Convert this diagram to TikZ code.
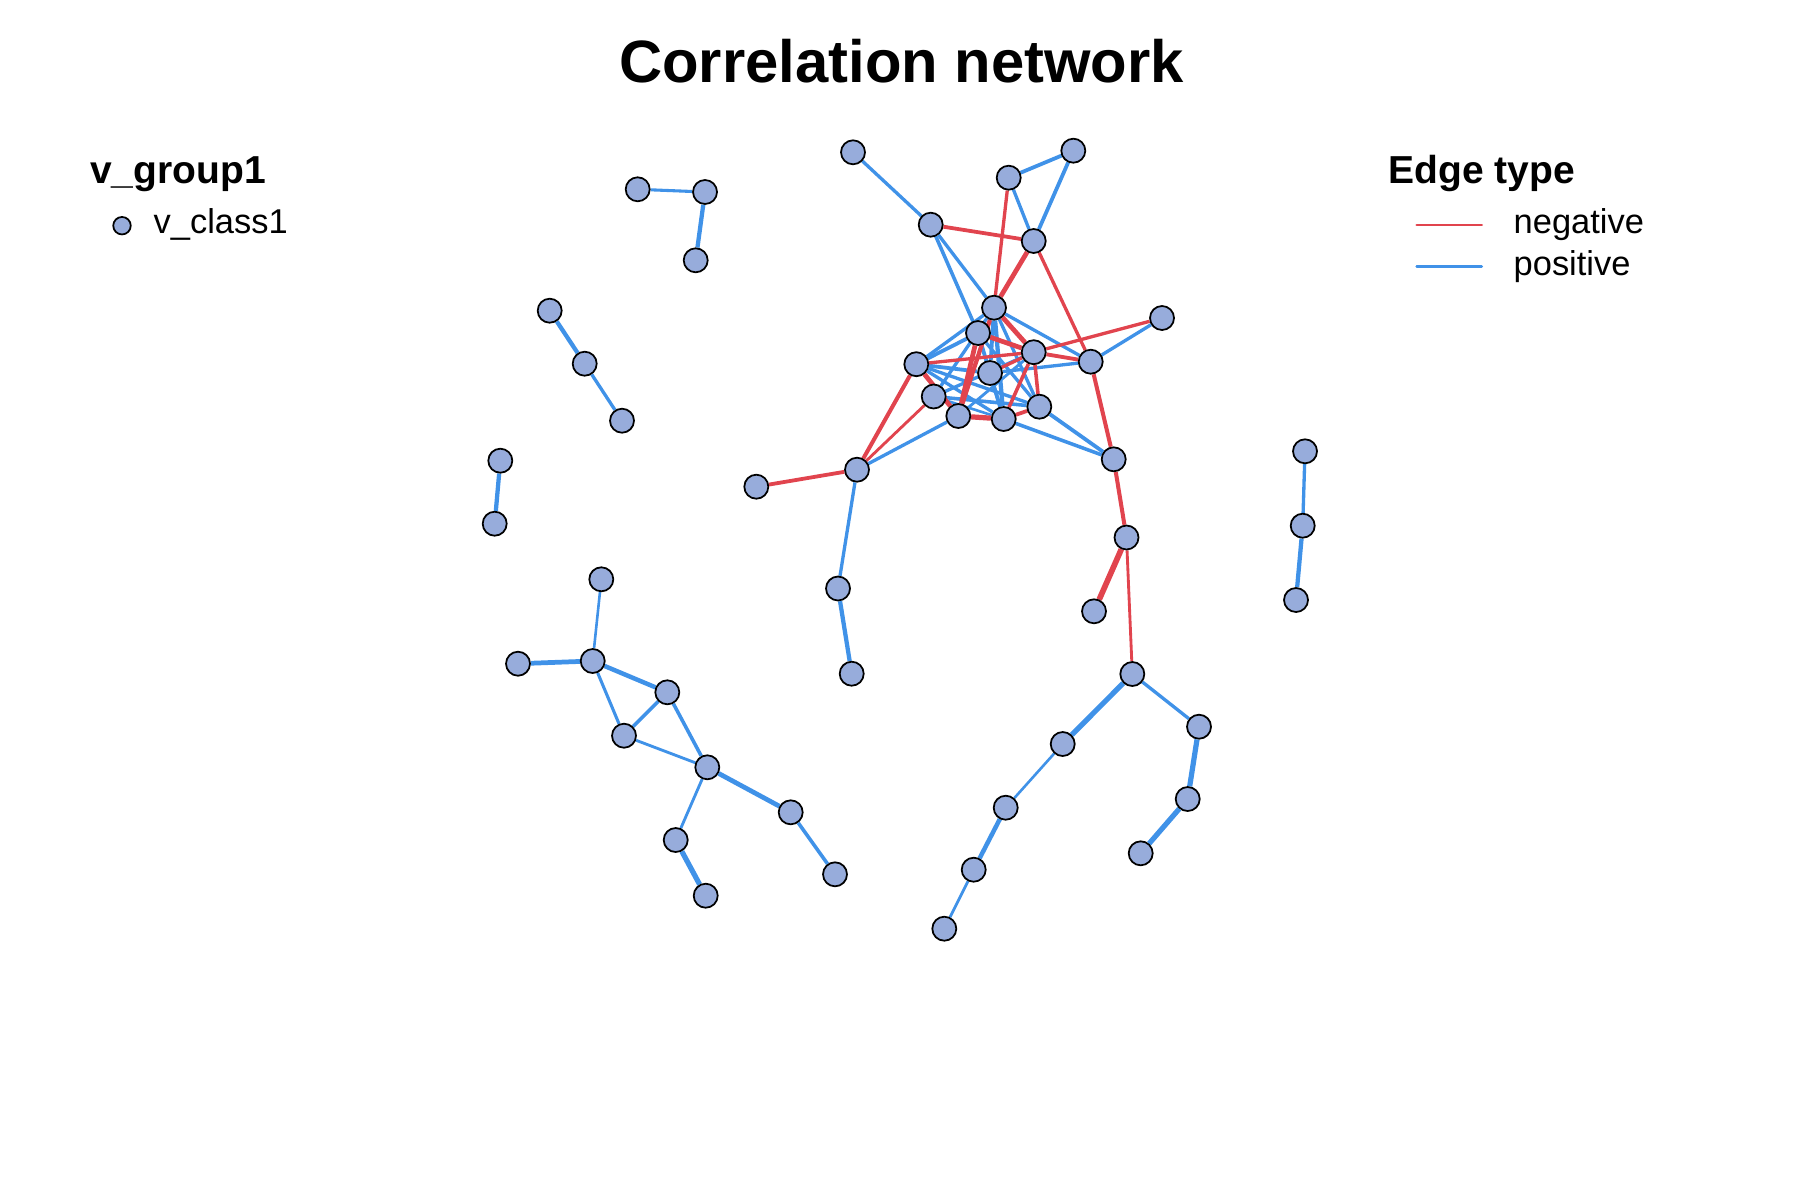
\documentclass[tikz,border=0pt]{standalone}
\usepackage{fontspec}
\setmainfont{Liberation Sans}
\usetikzlibrary{backgrounds}
\definecolor{vfill}{RGB}{151,172,219}
\definecolor{negred}{RGB}{225,68,78}
\definecolor{posblue}{RGB}{64,146,232}
\begin{document}
\begin{tikzpicture}[x=0.1mm,y=-0.1mm,
    vx/.style={circle,draw=black,line width=0.5pt,fill=vfill,minimum size=2.4mm,inner sep=0pt},
    ng/.style={draw=negred,line width=1.35*#1pt},
    ps/.style={draw=posblue,line width=1.35*#1pt},
    lb/.style={anchor=base west,inner sep=0pt,font=\fontsize{9.8}{12}\selectfont},
    hd/.style={anchor=base west,inner sep=0pt,font=\fontsize{11.1}{13}\selectfont\bfseries}]
    \useasboundingbox (0,0) rectangle (1800,1200);
    \node[anchor=base,inner sep=0pt,font=\fontsize{17}{20}\selectfont\bfseries] (title) at (901.5,82.5) {Correlation network};
    % vertices
    \foreach \n/\x/\y in {p1/637.7/189.3,p2/705/192,p3/695.7/260.3,
        q1/549.7/310.7,q2/584.7/363.7,q3/622/420.7,r1/500.3/460.7,r2/494.7/523.7,
        s1/1305/451.3,s2/1302.7/525.7,s3/1296/600,
        m1/853/152.3,m2/1008.7/177.7,m3/1073.3/150.7,m4/930.7/224.7,m5/1033.7/241,
        cA/994/307.7,cB/978/333,cC/1033.7/352.2,cD/1090.7/361.7,fr/1162/318,
        cE/916.3/364.2,cF/990/373,cG/933.7/396.5,cH/958.3/416,cI/1003.7/419,cJ/1039.3/406.7,
        hl/857/469.7,mb/756.3/486.7,n1/838/588.5,n2/851.7/673.7,
        k1/1113.7/459.3,k2/1126.5/537.5,k3/1094/611.3,
        t1/1132.3/674,t2/1062.7/744,t3/1005.7/807.7,t4/973.7/869.7,t5/944.3/928.7,
        t6/1199/726.7,t7/1187.7/799,t8/1140.7/853.3,
        u1/601.3/579.3,u2/518/663.7,u3/592.7/661,u4/667.3/692.3,u5/624/735.7,
        u6/707.3/767.3,u7/790.7/812.3,u8/675.7/840,u9/835/874.3,u10/705.7/895.7}
        \node[vx] (\n) at (\x,\y) {};
    % edges
    \begin{scope}[on background layer]
        \foreach \a/\b/\w in {p1/p2/0.65,p2/p3/0.9,q1/q2/0.9,q2/q3/0.7,r1/r2/0.9,
            s1/s2/0.7,s2/s3/0.9,u1/u3/0.55,u2/u3/1.0,u3/u4/0.95,u3/u5/0.65,u5/u4/0.75,
            u4/u6/0.75,u5/u6/0.6,u6/u7/1.0,u6/u8/0.6,u8/u10/1.1,u7/u9/0.75,
            n1/n2/0.9,hl/n1/0.7,t1/t2/1.1,t1/t6/0.7,t2/t3/0.55,t3/t4/0.95,t4/t5/0.6,
            t6/t7/1.1,t7/t8/1.1,m1/m4/0.7,m2/m3/0.8,m3/m5/0.8,m2/m5/0.7,m4/cA/0.7,
            m4/cB/0.75,fr/cD/0.7,cA/cD/0.7,cA/cE/0.7,cB/cE/0.8,cE/cF/0.8,cF/cD/0.7,
            cE/cI/0.7,cE/cJ/0.7,cG/cJ/0.75,cG/cA/0.7,cG/cC/0.7,cA/cI/0.9,cB/cI/0.8,
            cA/cF/0.8,cA/cJ/0.7,cB/cJ/0.7,cF/cI/0.7,cH/cC/0.6,hl/cH/0.7,cG/cI/0.55,
            cI/k1/0.75,cJ/k1/0.8}
            \draw[ps=\w] (\a) -- (\b);
        \foreach \a/\b/\w in {m2/cA/0.7,m4/m5/0.8,m5/cA/1.0,m5/cD/0.7,cD/k1/0.85,
            k1/k2/0.85,k2/k3/1.2,k2/t1/0.6,mb/hl/0.8,hl/cE/0.85,hl/cG/0.6,fr/cC/0.7,
            cA/cC/1.0,cB/cC/1.0,cE/cC/0.7,cC/cD/0.8,cE/cH/1.0,cA/cH/0.9,cB/cH/1.0,
            cH/cI/1.1,cF/cC/0.7,cC/cI/0.75,cC/cJ/0.75,cI/cJ/0.8}
            \draw[ng=\w] (\a) -- (\b);
    \end{scope}
    % legends
    \node[hd] (vgrp) at (89.6,183.3) {v\_group1};
    \node[vx,minimum size=1.75mm] (vdot) at (122,225.7) {};
    \node[lb] (vcls) at (153,233.3) {v\_class1};
    \node[hd] (etype) at (1388,183.3) {Edge type};
    \coordinate (neg1) at (1416.7,225);
    \coordinate (neg2) at (1481.7,225);
    \coordinate (pos1) at (1416.7,266.7);
    \coordinate (pos2) at (1481.7,266.7);
    \draw[ng=0.6,line cap=round] (neg1) -- (neg2);
    \draw[ps=0.6,line cap=round] (pos1) -- (pos2);
    \node[lb] (negl) at (1513,233.3) {negative};
    \node[lb] (posl) at (1513,275) {positive};
\end{tikzpicture}
\end{document}
